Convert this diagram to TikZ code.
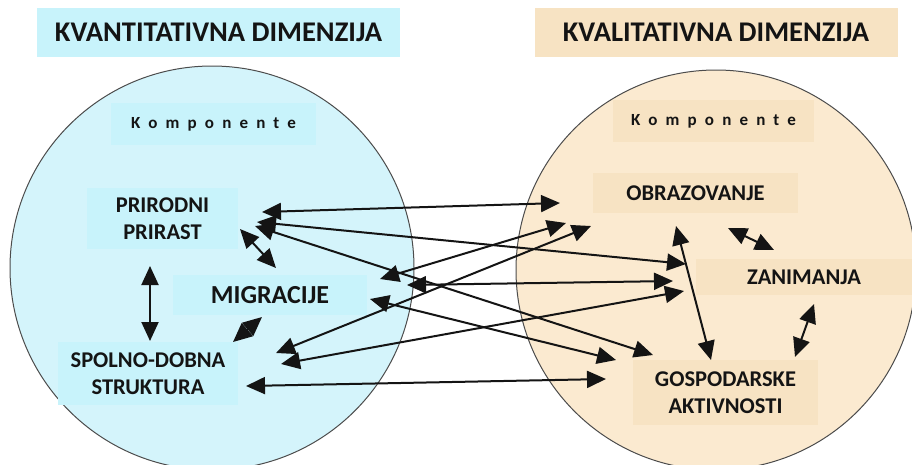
\documentclass[tikz,border=0pt]{standalone}
\usepackage{fontspec}
\setmainfont{Carlito}
\usepackage{xcolor}
\usetikzlibrary{arrows.meta}

\definecolor{kvcircle}{HTML}{D4F4FB}
\definecolor{kvbox}{HTML}{C8F3FB}
\definecolor{klcircle}{HTML}{FBEAD0}
\definecolor{klbox}{HTML}{F7E3C3}
\definecolor{ink}{HTML}{141414}

\tikzset{
  title/.style={minimum width=363pt,minimum height=49pt,inner sep=0pt,
    font=\fontsize{28.5}{32}\selectfont\bfseries,text=ink},
  komp/.style={minimum width=205pt,minimum height=42pt,inner sep=0pt,
    font=\fontsize{17}{20}\selectfont\bfseries\addfontfeatures{LetterSpace=48},text=ink},
  part/.style={inner sep=0pt,align=center,
    font=\fontsize{22.5}{27}\selectfont\bfseries,text=ink},
  link/.style={line width=2pt,draw=ink,
    {Triangle[length=19pt,width=17pt]}-{Triangle[length=19pt,width=17pt]}}
}

\begin{document}
\begin{tikzpicture}[x=1pt,y=-1pt]
\useasboundingbox (0,0) rectangle (912,464);

% the two circles
\draw[fill=kvcircle,draw=black!70,line width=1pt] (212,268) circle (202);
\draw[fill=klcircle,draw=black!70,line width=1pt] (716,270) circle (200);

% headings
\node[title,fill=kvbox] (kvant) at (218.5,32.5) {KVANTITATIVNA DIMENZIJA};
\node[title,fill=klbox] (kval) at (716,32.5) {KVALITATIVNA DIMENZIJA};
\node[komp,fill=kvbox] (kompL) at (213.5,124) {Komponente};
\node[komp,fill=klbox,minimum width=201pt] (kompR) at (713.5,121) {Komponente};

% components
\node[part,fill=kvbox,minimum width=151pt,minimum height=61pt] (prir) at (162.5,218.5) {PRIRODNI\\PRIRAST};
\node[part,fill=kvbox,minimum width=194pt,minimum height=40pt,font=\fontsize{26}{30}\selectfont\bfseries] (migr) at (270,295) {MIGRACIJE};
\node[part,fill=kvbox,minimum width=180pt,minimum height=63pt] (spol) at (148,373.5) {SPOLNO-DOBNA\\STRUKTURA};
\node[part,fill=klbox,minimum width=205pt,minimum height=40pt] (obr) at (695.5,193) {OBRAZOVANJE};
\node[part,fill=klbox,minimum width=216pt,minimum height=36pt] (zan) at (804,277) {ZANIMANJA};
\node[part,fill=klbox,minimum width=185pt,minimum height=65pt] (gosp) at (725.5,392.5) {GOSPODARSKE\\AKTIVNOSTI};

% links
\draw[link] ([shift={(99.5,-6.5)}]prir.center) -- ([shift={(-135.5,10)}]obr.center);
\draw[link] ([shift={(94.5,3.5)}]prir.center) -- ([shift={(-118,-13)}]zan.center);
\draw[link] ([shift={(92.5,7.5)}]prir.center) -- ([shift={(-72.5,-37.5)}]gosp.center);
\draw[link] ([shift={(77.5,10.5)}]prir.center) -- ([shift={(6,-27)}]migr.center);
\draw[link] ([shift={(-12.5,47.5)}]prir.center) -- ([shift={(2,-32.5)}]spol.center);
\draw[link] ([shift={(-8,22)}]migr.center) -- ([shift={(85,-31.5)}]spol.center);
\draw[link] ([shift={(110,-16)}]migr.center) -- ([shift={(-129.5,30)}]obr.center);
\draw[link] ([shift={(128,-20.5)}]spol.center) -- ([shift={(-104.5,33)}]obr.center);
\draw[link] ([shift={(137,-10)}]migr.center) -- ([shift={(-131,4)}]zan.center);
\draw[link] ([shift={(100,4)}]migr.center) -- ([shift={(-109.5,-32.5)}]gosp.center);
\draw[link] ([shift={(133,-9.5)}]spol.center) -- ([shift={(-120,14)}]zan.center);
\draw[link] ([shift={(98,12.5)}]spol.center) -- ([shift={(-119.5,-13.5)}]gosp.center);
\draw[link] ([shift={(-19.5,33)}]obr.center) -- ([shift={(-14.5,-32.5)}]gosp.center);
\draw[link] ([shift={(32.5,35)}]obr.center) -- ([shift={(-30,-27)}]zan.center);
\draw[link] ([shift={(10,27)}]zan.center) -- ([shift={(69.5,-35.5)}]gosp.center);
\end{tikzpicture}
\end{document}
